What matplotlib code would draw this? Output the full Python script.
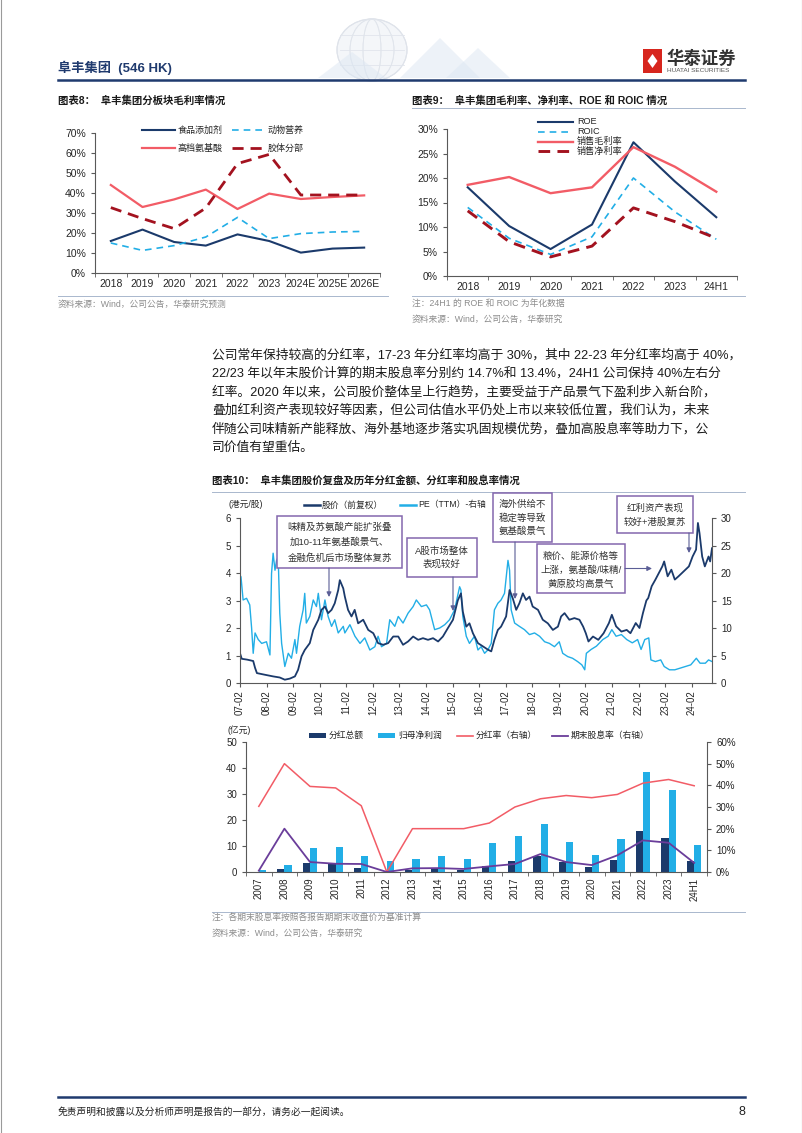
import numpy as np
import matplotlib
matplotlib.use('Agg')
import matplotlib.pyplot as plt
from matplotlib.lines import Line2D
from matplotlib.patches import Rectangle, FancyArrowPatch, Polygon, Ellipse

W, H = 802, 1133
FAM = ['Liberation Sans', 'Noto Sans CJK SC']
plt.rcParams['font.family'] = FAM
plt.rcParams['axes.unicode_minus'] = False

NAVY = '#1B3A6B'
LBLUE = '#22AEE6'
SALMON = '#F25C66'
DRED = '#A3121F'
PURPLE = '#6A3D9A'
BOXC = '#8467AE'
ARROWC = '#5B5E96'
AXC = '#595959'
TXT = '#262626'
SRC = '#8C8C8C'
RULE = '#A9B7CD'
HEAD = '#1F3A6E'

# ---------------- data: chart 8 ----------------
cats8 = ['2018', '2019', '2020', '2021', '2022', '2023', '2024E', '2025E', '2026E']
food_additive = [16.0, 21.7, 15.5, 13.7, 19.3, 16.0, 10.2, 12.2, 12.7]
animal_nutrition = [15.0, 11.3, 13.7, 18.0, 27.8, 17.2, 19.7, 20.5, 20.8]
hi_amino = [44.0, 33.0, 36.8, 41.7, 32.0, 39.7, 37.0, 38.0, 38.8]
colloid = [32.7, 27.2, 22.2, 32.5, 54.7, 59.3, 39.0, 39.0, 39.0]
names8 = ['食品添加剂', '动物营养', '高档氨基酸', '胶体分部']

# ---------------- data: chart 9 ----------------
cats9 = ['2018', '2019', '2020', '2021', '2022', '2023', '24H1']
roe = [18.1, 10.2, 5.5, 10.5, 27.3, 19.3, 12.0]
roic = [14.0, 7.7, 4.4, 8.0, 20.0, 13.1, 7.5]
gross_margin = [18.6, 20.2, 16.9, 18.1, 26.3, 22.3, 17.2]
net_margin = [13.3, 7.0, 3.9, 6.1, 13.9, 11.1, 7.7]
names9 = ['ROE', 'ROIC', '销售毛利率', '销售净利率']

# ---------------- data: chart 10 top (decimal year, value) ----------------
price_t = [2007.08, 2007.15, 2007.35, 2007.58, 2007.65, 2007.72, 2008.02, 2008.33, 2008.58, 2008.77,
           2008.96, 2009.15, 2009.27, 2009.40, 2009.52, 2009.71, 2009.84, 2010.03, 2010.15, 2010.28,
           2010.40, 2010.53, 2010.65, 2010.78, 2010.84, 2010.97, 2011.03, 2011.15, 2011.28, 2011.40,
           2011.53, 2011.72, 2011.91, 2012.10, 2012.28, 2012.47, 2012.66, 2012.85, 2013.04, 2013.22,
           2013.41, 2013.60, 2013.79, 2013.97, 2014.16, 2014.35, 2014.54, 2014.72, 2014.91, 2015.10,
           2015.28, 2015.40, 2015.47, 2015.60, 2015.72, 2015.85, 2016.04, 2016.23, 2016.42, 2016.54,
           2016.66, 2016.79, 2016.91, 2017.10, 2017.23, 2017.35, 2017.48, 2017.60, 2017.73, 2017.85,
           2017.98, 2018.10, 2018.30, 2018.48, 2018.67, 2018.86, 2019.05, 2019.17, 2019.30, 2019.48,
           2019.67, 2019.86, 2020.00, 2020.10, 2020.20, 2020.37, 2020.57, 2020.77, 2020.97, 2021.08,
           2021.24, 2021.44, 2021.64, 2021.78, 2021.98, 2022.12, 2022.25, 2022.38, 2022.45, 2022.58,
           2022.72, 2022.85, 2022.98, 2023.05, 2023.18, 2023.32, 2023.45, 2023.59, 2023.72, 2023.85,
           2023.98, 2024.12, 2024.25, 2024.32, 2024.38, 2024.48, 2024.58, 2024.72, 2024.78, 2024.85]
price_v = [1.09, 0.88, 0.85, 0.80, 0.55, 0.36, 0.30, 0.24, 0.20, 0.12,
           0.16, 0.24, 0.48, 0.97, 1.20, 1.45, 1.93, 2.30, 2.66, 2.78,
           2.54, 2.66, 2.90, 3.38, 3.74, 3.44, 3.14, 2.66, 2.42, 2.66,
           2.17, 2.30, 1.93, 1.81, 1.45, 1.39, 1.45, 1.69, 1.69, 1.39,
           1.51, 1.69, 1.57, 1.63, 1.57, 1.63, 1.51, 1.69, 2.00, 2.30,
           3.00, 3.26, 2.60, 2.05, 2.17, 1.81, 1.45, 1.33, 1.21, 1.15,
           1.57, 1.93, 2.05, 2.42, 3.38, 3.08, 2.66, 2.90, 3.26, 3.02,
           3.14, 2.78, 2.66, 2.30, 2.17, 1.93, 2.05, 2.42, 2.54, 2.30,
           2.36, 2.30, 2.05, 1.81, 1.51, 1.69, 1.57, 1.81, 2.18, 2.48,
           2.06, 1.87, 1.93, 1.81, 2.18, 2.00, 2.54, 3.00, 3.09, 3.52,
           3.76, 4.00, 4.24, 4.42, 3.88, 4.12, 3.76, 3.88, 4.00, 4.12,
           4.24, 4.60, 4.85, 5.82, 5.45, 4.60, 4.24, 4.60, 4.42, 4.90]
pe_t = [2007.08, 2007.12, 2007.20, 2007.33, 2007.45, 2007.52, 2007.58, 2007.65, 2007.77, 2007.90,
        2008.08, 2008.21, 2008.27, 2008.33, 2008.40, 2008.46, 2008.52, 2008.58, 2008.65, 2008.77,
        2008.90, 2009.02, 2009.15, 2009.21, 2009.33, 2009.46, 2009.52, 2009.58, 2009.71, 2009.84,
        2009.96, 2010.03, 2010.15, 2010.28, 2010.40, 2010.53, 2010.65, 2010.78, 2010.97, 2011.03,
        2011.22, 2011.41, 2011.60, 2011.78, 2011.97, 2012.16, 2012.28, 2012.41, 2012.60, 2012.72,
        2012.91, 2013.04, 2013.22, 2013.41, 2013.60, 2013.72, 2013.91, 2014.10, 2014.22, 2014.41,
        2014.60, 2014.79, 2014.97, 2015.16, 2015.35, 2015.40, 2015.47, 2015.60, 2015.72, 2015.91,
        2016.04, 2016.16, 2016.29, 2016.41, 2016.54, 2016.66, 2016.79, 2016.91, 2017.04, 2017.17,
        2017.23, 2017.29, 2017.42, 2017.60, 2017.79, 2017.98, 2018.17, 2018.36, 2018.55, 2018.73,
        2018.92, 2019.10, 2019.23, 2019.42, 2019.60, 2019.79, 2019.95, 2020.06, 2020.12, 2020.30,
        2020.50, 2020.74, 2020.94, 2021.08, 2021.24, 2021.44, 2021.64, 2021.85, 2022.05, 2022.18,
        2022.32, 2022.47, 2022.55, 2022.72, 2022.92, 2023.05, 2023.25, 2023.45, 2023.65, 2023.85,
        2024.05, 2024.26, 2024.40, 2024.60, 2024.72, 2024.85]
pe_v = [19.6, 19.3, 15.1, 15.4, 14.2, 10.0, 5.4, 9.1, 7.9, 7.2,
        7.5, 5.1, 19.9, 23.6, 20.5, 22.3, 22.9, 12.7, 7.2, 3.0,
        5.4, 4.5, 7.9, 5.4, 10.3, 13.3, 16.3, 10.9, 12.1, 15.1,
        13.9, 16.3, 11.5, 15.1, 12.1, 10.3, 11.5, 9.1, 10.3, 9.1,
        10.6, 8.5, 7.2, 8.2, 6.0, 6.6, 8.5, 6.6, 7.2, 11.5,
        10.3, 12.1, 10.9, 12.7, 13.9, 15.1, 13.9, 14.2, 13.3, 9.7,
        10.0, 10.6, 11.5, 13.3, 17.5, 16.9, 12.1, 8.5, 7.2, 8.5,
        6.0, 6.6, 5.4, 6.0, 7.2, 13.3, 14.5, 15.1, 16.3, 22.3,
        20.5, 13.3, 10.9, 10.3, 9.7, 8.8, 9.1, 8.5, 7.5, 7.2,
        6.6, 7.5, 5.4, 4.8, 4.5, 3.9, 3.3, 2.4, 5.4, 6.1,
        6.7, 7.9, 8.5, 9.7, 8.5, 8.8, 7.9, 7.3, 7.9, 6.1,
        7.9, 8.2, 4.2, 3.9, 4.2, 3.0, 2.4, 2.4, 2.7, 3.0,
        3.3, 4.5, 3.6, 3.6, 4.2, 3.9]
tick_years = list(range(2007, 2025))
tick_labels10 = ['%02d-02' % (y % 100) for y in tick_years]

# ---------------- data: chart 10 bottom ----------------
cats11 = ['2007', '2008', '2009', '2010', '2011', '2012', '2013', '2014', '2015', '2016',
          '2017', '2018', '2019', '2020', '2021', '2022', '2023', '24H1']
dividend = [0.0, 1.3, 3.4, 3.4, 1.7, 0.0, 0.9, 1.0, 0.9, 2.3, 4.1, 6.2, 3.8, 1.9, 4.5, 15.7, 13.2, 4.1]
net_profit = [0.6, 2.8, 9.3, 9.7, 6.1, 4.3, 5.1, 6.2, 5.1, 11.0, 14.0, 18.5, 11.5, 6.4, 12.7, 38.6, 31.7, 10.4]
payout = [30.3, 50.0, 39.5, 38.8, 30.6, 0.0, 20.0, 20.0, 20.0, 22.6, 30.0, 33.8, 35.3, 34.3, 35.8, 41.0, 42.7, 39.8]
div_yield = [0.6, 20.0, 4.6, 3.8, 3.7, 0.0, 1.7, 1.8, 1.4, 2.6, 3.7, 8.3, 4.6, 3.2, 7.7, 14.6, 13.5, 4.2]
names11 = ['分红总额', '归母净利润', '分红率（右轴）', '期末股息率（右轴）']

para = [
    '公司常年保持较高的分红率，17-23 年分红率均高于 30%，其中 22-23 年分红率均高于 40%，',
    '22/23 年以年末股价计算的期末股息率分别约 14.7%和 13.4%，24H1 公司保持 40%左右分',
    '红率。2020 年以来，公司股价整体呈上行趋势，主要受益于产品景气下盈利步入新台阶，',
    '叠加红利资产表现较好等因素，但公司估值水平仍处上市以来较低位置，我们认为，未来',
    '伴随公司味精新产能释放、海外基地逐步落实巩固规模优势，叠加高股息率等助力下，公',
    '司价值有望重估。',
]

# ---------------- helpers ----------------
fig = plt.figure(figsize=(W / 100, H / 100), dpi=100)


def R(x0, y0, x1, y1):
    return [x0 / W, 1 - y1 / H, (x1 - x0) / W, (y1 - y0) / H]


def T(x, y, s, size=7, color=TXT, ha='left', va='center', weight='normal', **kw):
    return fig.text(x / W, 1 - y / H, s, fontsize=size, color=color, ha=ha, va=va,
                    fontweight=weight, **kw)


def L(x0, y0, x1, y1, color, lw=1.0, ls='-', zorder=3, alpha=1.0):
    fig.add_artist(Line2D([x0 / W, x1 / W], [1 - y0 / H, 1 - y1 / H], color=color, lw=lw,
                          ls=ls, transform=fig.transFigure, zorder=zorder, alpha=alpha))


def RECT(x0, y0, x1, y1, fc, ec='none', lw=0, zorder=3):
    fig.add_artist(Rectangle((x0 / W, 1 - y1 / H), (x1 - x0) / W, (y1 - y0) / H,
                             transform=fig.transFigure, facecolor=fc, edgecolor=ec, lw=lw,
                             zorder=zorder))


def ARROW(x0, y0, x1, y1):
    fig.add_artist(FancyArrowPatch((x0 / W, 1 - y0 / H), (x1 / W, 1 - y1 / H),
                                   transform=fig.transFigure, arrowstyle='-|>',
                                   mutation_scale=7, color=ARROWC, lw=0.8, zorder=6,
                                   shrinkA=0, shrinkB=0))


def style(ax, size=7.5):
    for s in ['top', 'right']:
        ax.spines[s].set_visible(False)
    for s in ['left', 'bottom']:
        ax.spines[s].set_color(AXC)
        ax.spines[s].set_linewidth(0.8)
    ax.tick_params(colors=AXC, labelcolor=TXT, labelsize=size, length=3, width=0.8)


# ---------------- page frame & header ----------------
L(0.5, 0, 0.5, H, '#9A9A9A', lw=0.8)
L(801.5, 0, 801.5, H, '#9A9A9A', lw=0.8)

# faint watermark graphic (globe + chevrons)
fig.add_artist(Ellipse((372 / W, 1 - 50 / H), 70 / W, 62 / H, transform=fig.transFigure,
                       facecolor='#F4F6F9', edgecolor='#D9DEE6', lw=0.8, zorder=1))
for k in range(-2, 3):
    fig.add_artist(Ellipse((372 / W, 1 - 50 / H), (70 - 26 * abs(k)) / W, 62 / H,
                           transform=fig.transFigure, facecolor='none', edgecolor='#E1E5EC',
                           lw=0.6, zorder=1))
for yy in [35, 50, 65]:
    L(340, yy, 404, yy, '#E1E5EC', lw=0.6, zorder=1)
for pts in [[(318, 78), (352, 52), (386, 78)], [(400, 78), (440, 38), (480, 78)],
            [(446, 78), (478, 48), (510, 78)]]:
    fig.add_artist(Polygon([(p[0] / W, 1 - p[1] / H) for p in pts], closed=True,
                           transform=fig.transFigure, facecolor='#DDE7F3', edgecolor='none',
                           alpha=0.5, zorder=1))

T(58, 68, '阜丰集团  (546 HK)', size=9.5, color=HEAD, weight='bold')
L(58, 79.5, 745, 79.5, HEAD, lw=1.8)
RECT(643, 49, 662, 73, '#D7261E', zorder=3)
fig.add_artist(Polygon([((652.5 + dx) / W, 1 - (61 + dy) / H) for dx, dy in
                        [(0, -7), (5, 0), (0, 7), (-5, 0)]], closed=True,
                       transform=fig.transFigure, facecolor='white', edgecolor='none', zorder=4))
T(666, 58, '华泰证券', size=12.5, color='#333333', weight='bold')
T(667, 71, 'HUATAI SECURITIES', size=4.6, color='#555555')

# ---------------- chart 8 ----------------
T(58, 101, '图表8：  阜丰集团分板块毛利率情况', size=7.5, weight='bold', color='#1A1A1A')
ax8 = fig.add_axes(R(95, 133, 380, 273))
x8 = np.arange(len(cats8))
ax8.plot(x8, food_additive, color=NAVY, lw=1.5)
ax8.plot(x8, animal_nutrition, color=LBLUE, lw=1.2, ls=(0, (4, 3)))
ax8.plot(x8, hi_amino, color=SALMON, lw=1.6)
ax8.plot(x8, colloid, color=DRED, lw=2.0, ls=(0, (4, 2.5)))
ax8.set_xlim(-0.5, len(cats8) - 0.5)
ax8.set_ylim(0, 70)
ax8.set_yticks(range(0, 71, 10))
ax8.set_yticklabels(['%d%%' % v for v in range(0, 71, 10)])
ax8.set_xticks(x8)
ax8.set_xticklabels(cats8)
ax8.set_xticks(np.arange(-0.5, len(cats8)), minor=True)
style(ax8)
ax8.tick_params(axis='x', which='major', length=0, pad=4)
ax8.tick_params(axis='x', which='minor', length=3, color=AXC)
# legend
L(142, 130, 175, 130, NAVY, lw=1.5)
T(178, 130, names8[0], size=6.5)
L(232, 130, 263, 130, LBLUE, lw=1.2, ls=(0, (4, 3)))
T(268, 130, names8[1], size=6.5)
L(142, 148, 175, 148, SALMON, lw=1.6)
T(178, 148, names8[2], size=6.5)
L(232, 148, 263, 148, DRED, lw=2.0, ls=(0, (4, 2.5)))
T(268, 148, names8[3], size=6.5)
L(58, 296.5, 388, 296.5, RULE, lw=0.7)
T(58, 304, '资料来源：Wind，公司公告，华泰研究预测', size=6.3, color=SRC)

# ---------------- chart 9 ----------------
T(412, 101, '图表9：  阜丰集团毛利率、净利率、ROE 和 ROIC 情况', size=7.5, weight='bold',
  color='#1A1A1A')
L(412, 107.5, 745, 107.5, RULE, lw=0.7)
ax9 = fig.add_axes(R(447, 129, 737, 276))
x9 = np.arange(len(cats9))
ax9.plot(x9, roe, color=NAVY, lw=1.5)
ax9.plot(x9, roic, color=LBLUE, lw=1.2, ls=(0, (4, 3)))
ax9.plot(x9, gross_margin, color=SALMON, lw=1.7)
ax9.plot(x9, net_margin, color=DRED, lw=2.1, ls=(0, (4, 2.5)))
ax9.set_xlim(-0.5, len(cats9) - 0.5)
ax9.set_ylim(0, 30)
ax9.set_yticks(range(0, 31, 5))
ax9.set_yticklabels(['%d%%' % v for v in range(0, 31, 5)])
ax9.set_xticks(x9)
ax9.set_xticklabels(cats9)
ax9.set_xticks(np.arange(-0.5, len(cats9)), minor=True)
style(ax9)
ax9.tick_params(axis='x', which='major', length=0, pad=4)
ax9.tick_params(axis='x', which='minor', length=3, color=AXC)
leg9 = [(NAVY, 1.5, '-'), (LBLUE, 1.2, (0, (4, 3))), (SALMON, 1.7, '-'), (DRED, 2.1, (0, (4, 2.5)))]
for i, (c, lw, ls) in enumerate(leg9):
    yy = [121.5, 131.5, 141.5, 151][i]
    L(538, yy, 573, yy, c, lw=lw, ls=ls)
    T(577, yy, names9[i], size=6.6)
L(412, 296.5, 745, 296.5, RULE, lw=0.7)
T(412, 304, '注：24H1 的 ROE 和 ROIC 为年化数据', size=6.3, color=SRC)
T(412, 319, '资料来源：Wind，公司公告，华泰研究', size=6.3, color=SRC)

# ---------------- paragraph ----------------
for i, line in enumerate(para):
    T(212, 355 + 18.5 * i, line, size=9.2, color='#1A1A1A')

# ---------------- chart 10 ----------------
T(212, 481, '图表10：  阜丰集团股价复盘及历年分红金额、分红率和股息率情况', size=7.5,
  weight='bold', color='#1A1A1A')
L(212, 491.5, 745, 491.5, RULE, lw=0.7)

ax10 = fig.add_axes(R(240, 518, 712, 683))
ax10b = ax10.twinx()
ax10b.plot(pe_t, pe_v, color=LBLUE, lw=1.0)
ax10.plot(price_t, price_v, color=NAVY, lw=1.3)
ax10.set_zorder(ax10b.get_zorder() + 1)
ax10.patch.set_visible(False)
ax10.set_xlim(2007.083, 2024.85)
ax10.set_ylim(0, 6)
ax10b.set_ylim(0, 30)
ax10.set_yticks(range(0, 7))
ax10b.set_yticks(range(0, 31, 5))
ax10.set_xticks([y + 1 / 12 for y in tick_years])
ax10.set_xticklabels(tick_labels10, rotation=90)
style(ax10, size=7)
ax10.tick_params(axis='x', length=3, pad=2)
for s in ['top', 'left', 'bottom']:
    ax10b.spines[s].set_visible(False)
ax10b.spines['right'].set_color(AXC)
ax10b.spines['right'].set_linewidth(0.8)
ax10b.tick_params(colors=AXC, labelcolor=TXT, labelsize=7, length=3, width=0.8)

T(229, 505, '(港元/股)', size=6.3)
L(304, 505, 320, 505, NAVY, lw=1.8)
T(322, 505, '股价（前复权）', size=6.3)
L(400, 505, 416, 505, LBLUE, lw=1.8)
T(418, 505, 'PE（TTM）-右轴', size=6.3)

boxes = [
    (277, 516, 402, 568, ['味精及苏氨酸产能扩张叠', '加10-11年氨基酸景气、', '金融危机后市场整体复苏'],
     [527.5, 542.5, 557.5]),
    (407, 538, 477, 577, ['A股市场整体', '表现较好'], [551, 564]),
    (493, 493, 552, 542, ['海外供给不', '稳定等导致', '氨基酸景气'], [504.5, 518, 531]),
    (537, 544, 625, 593, ['粮价、能源价格等', '上涨，氨基酸/味精/', '黄原胶均高景气'],
     [556.5, 570.5, 584.5]),
    (617, 496, 693, 533, ['红利资产表现', '较好+港股复苏'], [508.5, 522]),
]
for (x0, y0, x1, y1, lines, ys) in boxes:
    RECT(x0, y0, x1, y1, 'white', ec=BOXC, lw=1.1, zorder=5)
    for s, yy in zip(lines, ys):
        t = T((x0 + x1) / 2, yy, s, size=6.8, ha='center', color='#333333')
        t.set_zorder(6)
ARROW(329, 568, 329, 597)
ARROW(453, 577, 453, 611)
ARROW(515, 542, 515, 599)
ARROW(625, 568.5, 652, 568.5)
ARROW(689, 533, 689, 553)

# ---------------- chart 10 bottom ----------------
ax11 = fig.add_axes(R(246, 742, 707, 872))
ax11b = ax11.twinx()
xb = np.arange(len(cats11))
bw = 0.28
ax11.bar(xb - bw / 2, dividend, bw, color=NAVY)
ax11.bar(xb + bw / 2, net_profit, bw, color=LBLUE)
ax11b.plot(xb, payout, color=SALMON, lw=1.1)
ax11b.plot(xb, div_yield, color=PURPLE, lw=1.3)
ax11.set_xlim(-0.5, len(cats11) - 0.5)
ax11.set_ylim(0, 50)
ax11b.set_ylim(0, 60)
ax11.set_yticks(range(0, 51, 10))
ax11b.set_yticks(range(0, 61, 10))
ax11b.set_yticklabels(['%d%%' % v for v in range(0, 61, 10)])
ax11.set_xticks(xb)
ax11.set_xticklabels(cats11, rotation=90)
ax11.set_xticks(np.arange(-0.5, len(cats11)), minor=True)
style(ax11, size=7)
ax11.tick_params(axis='x', which='major', length=0, pad=4)
ax11.tick_params(axis='x', which='minor', length=3, color=AXC)
for s in ['top', 'left', 'bottom']:
    ax11b.spines[s].set_visible(False)
ax11b.spines['right'].set_color(AXC)
ax11b.spines['right'].set_linewidth(0.8)
ax11b.tick_params(colors=AXC, labelcolor=TXT, labelsize=7, length=3, width=0.8)

T(228, 730, '(亿元)', size=6.3)
RECT(309, 733, 326, 738, NAVY)
T(329, 735.5, names11[0], size=6.3)
RECT(378, 733, 395, 738, LBLUE)
T(398, 735.5, names11[1], size=6.3)
L(457, 735.5, 473, 735.5, SALMON, lw=1.2)
T(476, 735.5, names11[2], size=6.3)
L(552, 735.5, 568, 735.5, PURPLE, lw=1.3)
T(571, 735.5, names11[3], size=6.3)

L(212, 911.5, 745, 911.5, RULE, lw=0.7)
T(212, 918, '注：各期末股息率按照各报告期期末收盘价为基准计算', size=6.3, color=SRC)
T(212, 933, '资料来源：Wind，公司公告，华泰研究', size=6.3, color=SRC)

# ---------------- footer ----------------
L(58, 1097, 745, 1097, HEAD, lw=1.8)
T(58, 1112, '免责声明和披露以及分析师声明是报告的一部分，请务必一起阅读。', size=7, color='#222222')
T(745, 1112, '8', size=9, color='#222222', ha='right')

fig.savefig('out.png', dpi=100)
